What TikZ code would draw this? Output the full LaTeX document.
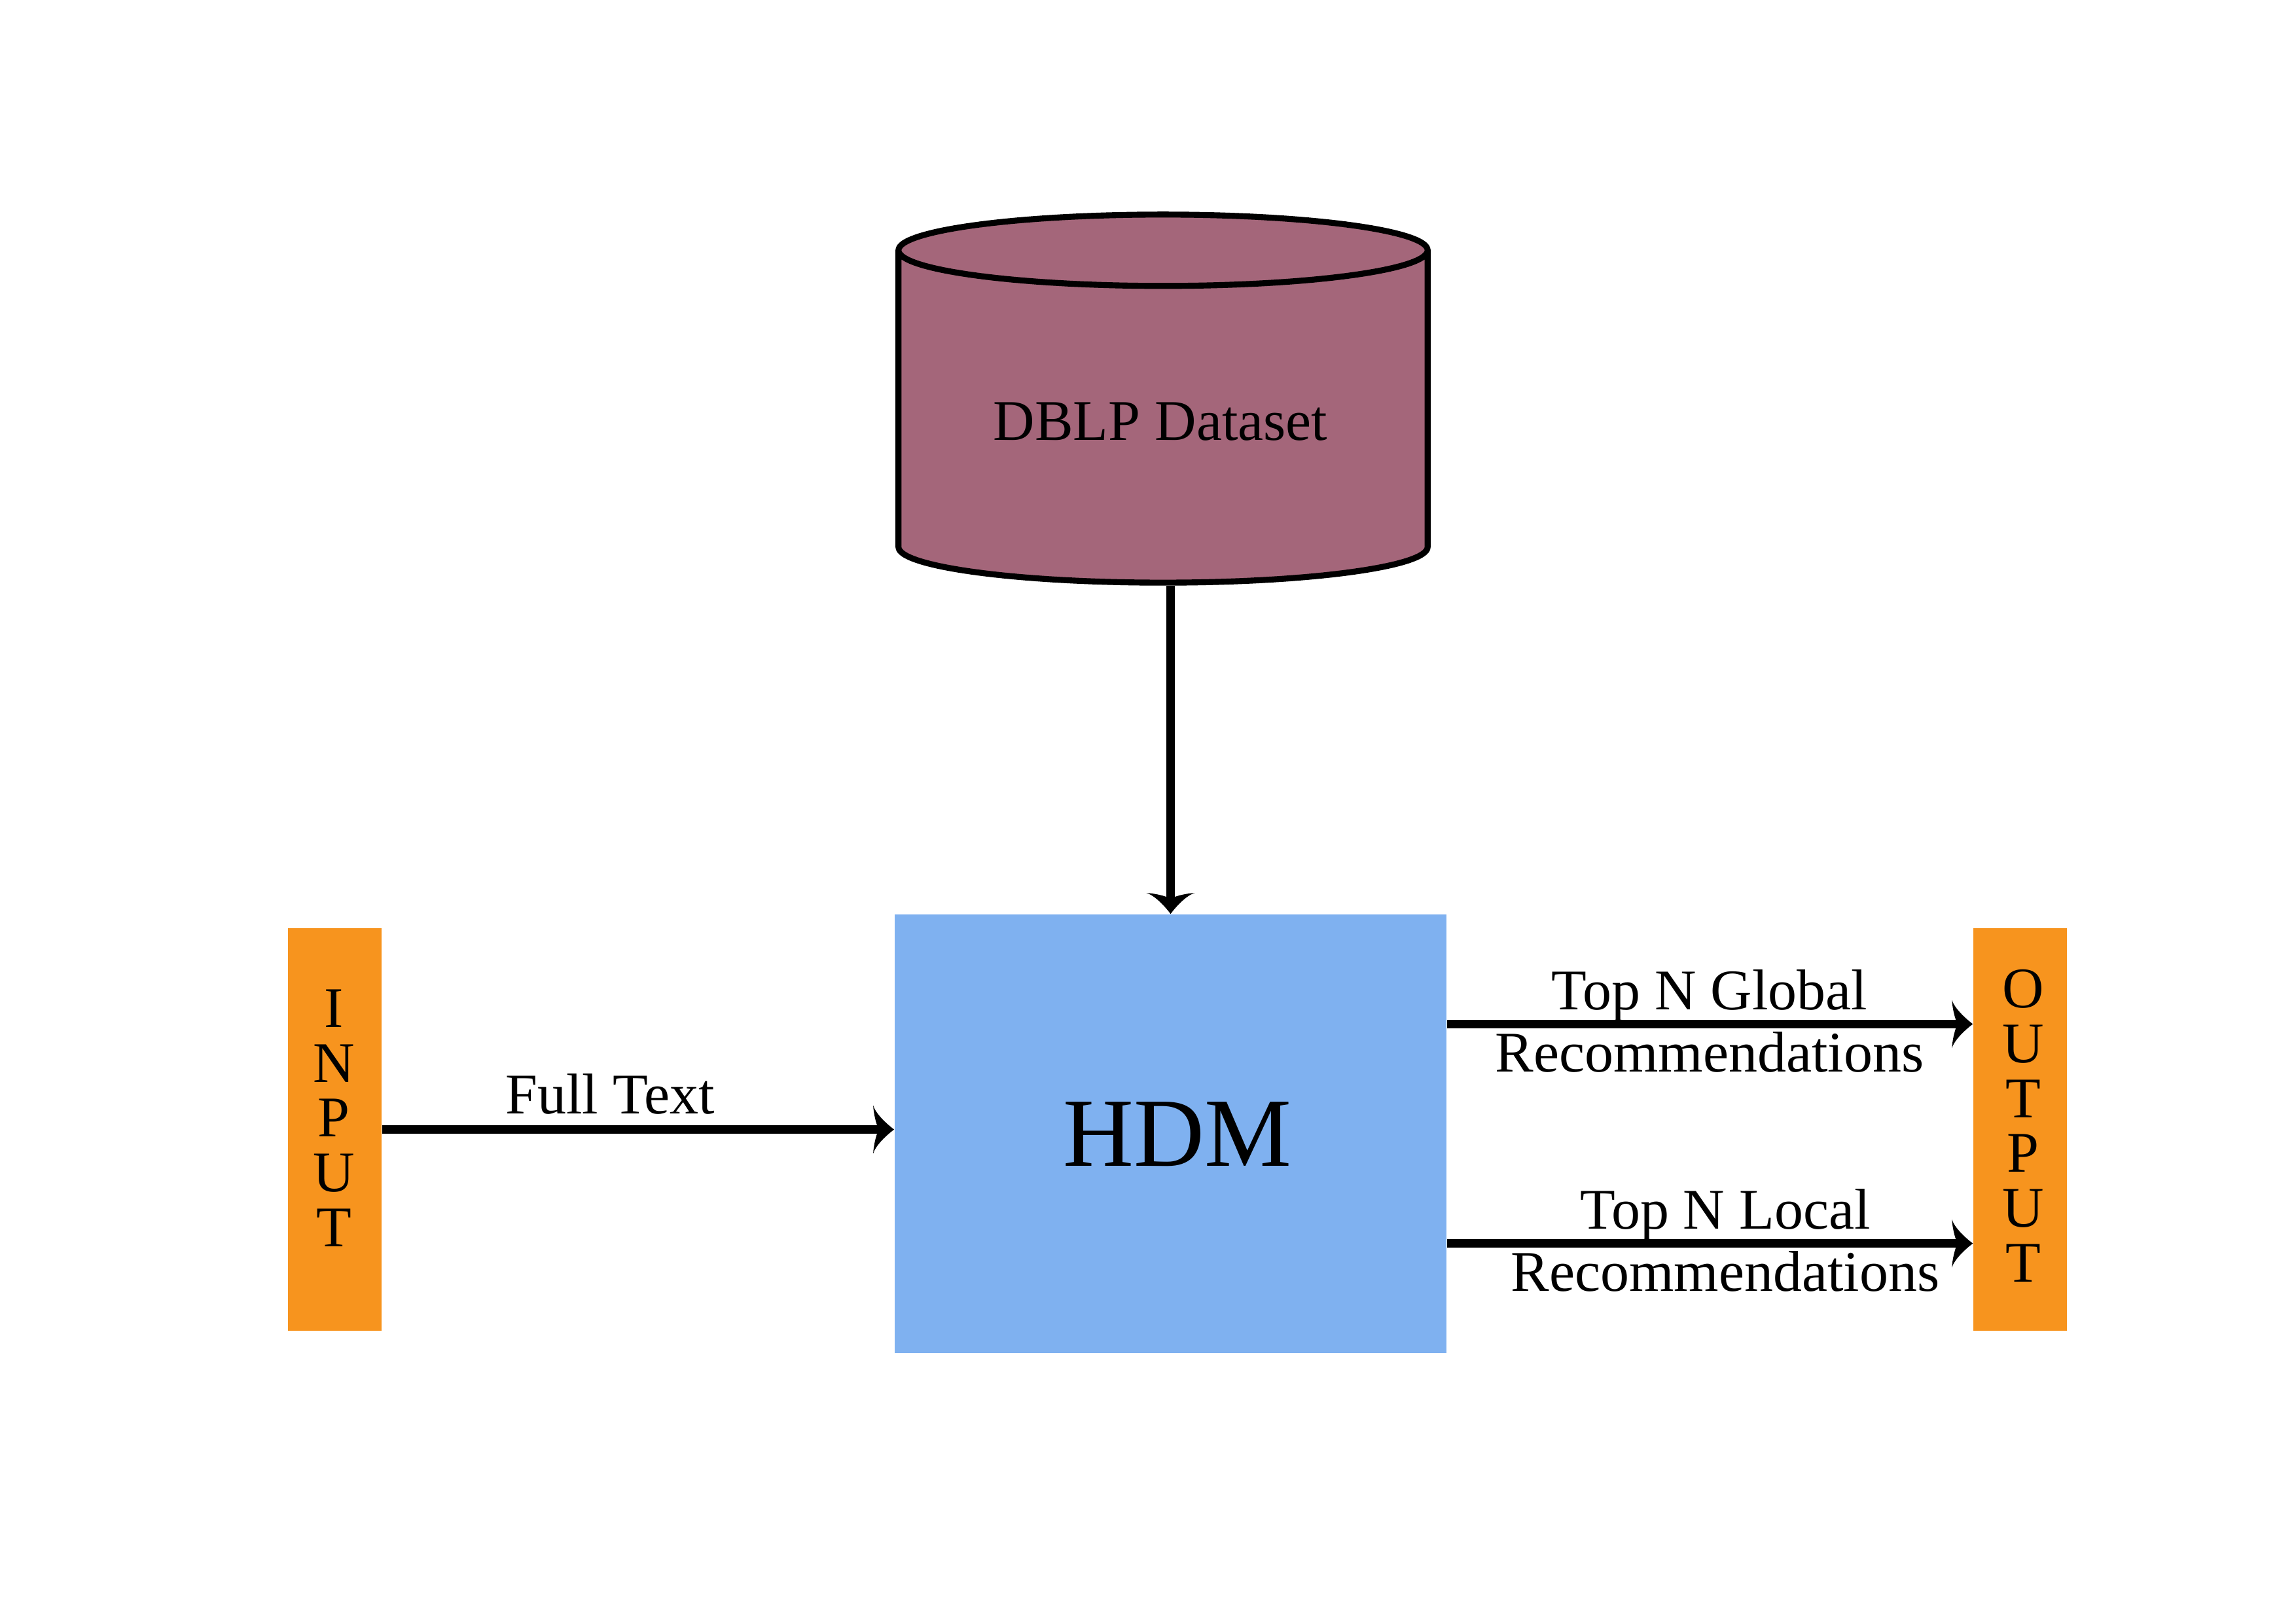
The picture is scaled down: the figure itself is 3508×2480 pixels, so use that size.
\documentclass[tikz,border=0pt]{standalone}
\usepackage{fontspec}
\setmainfont{Liberation Serif}
\usetikzlibrary{arrows.meta, shapes.geometric}
\definecolor{boxorange}{HTML}{F7941E}
\definecolor{boxblue}{HTML}{7FB1F0}
\definecolor{dbmauve}{HTML}{A4667A}

\pgfdeclarearrow{
	name=Crescent,
	setup code={
		\pgfarrowssettipend{0pt}
		\pgfarrowssetlineend{-7pt}
		\pgfarrowssetvisualbackend{-7.4pt}
		\pgfarrowssetbackend{-9.1pt}
		\pgfarrowshullpoint{0pt}{0pt}
		\pgfarrowsupperhullpoint{-9.1pt}{10.5pt}
	},
	drawing code={
		\pgfpathmoveto{\pgfqpoint{0pt}{0pt}}
		\pgfpathcurveto{\pgfqpoint{-3.2pt}{2.4pt}}{\pgfqpoint{-8pt}{6.8pt}}{\pgfqpoint{-9.1pt}{10.5pt}}
		\pgfpathcurveto{\pgfqpoint{-8.9pt}{7pt}}{\pgfqpoint{-8pt}{3.5pt}}{\pgfqpoint{-7.4pt}{1.85pt}}
		\pgfpathlineto{\pgfqpoint{-7.4pt}{-1.85pt}}
		\pgfpathcurveto{\pgfqpoint{-8pt}{-3.5pt}}{\pgfqpoint{-8.9pt}{-7pt}}{\pgfqpoint{-9.1pt}{-10.5pt}}
		\pgfpathcurveto{\pgfqpoint{-8pt}{-6.8pt}}{\pgfqpoint{-3.2pt}{-2.4pt}}{\pgfqpoint{0pt}{0pt}}
		\pgfpathclose
		\pgfusepathqfill
	}
}

\tikzset{
	side/.style={fill=boxorange, minimum width=1.43cm, minimum height=6.15cm},
	stacked/.style={align=center, font=\fontsize{25}{23.8}\selectfont},
	flowlabel/.style={align=center, font=\fontsize{25}{26.9}\selectfont},
	flow/.style={line width=3.7pt, -{Crescent}}
}

\begin{document}
\begin{tikzpicture}[x=0.01cm, y=-0.01cm]
	\useasboundingbox (0,0) rectangle (3508,2480);

	\node[side] (input) at (511.5,1725.5) {};
	\node[side] (output) at (3086.5,1725.5) {};
	\node[fill=boxblue, minimum width=8.43cm, minimum height=6.7cm] (hdm) at (1788.5,1732) {};
	\node[draw, line width=2.6pt, fill=dbmauve, cylinder, shape border rotate=90, aspect=4.65,
		minimum width=8.08cm, minimum height=5.62cm] (db) at (1777,645) {};

	\node[anchor=base, flowlabel] (dbtext) at (1773,672) {DBLP Dataset};
	\node[anchor=base, font=\fontsize{42.5}{44}\selectfont] (hdmtext) at (1799,1781) {HDM};
	\node[stacked] (inputtext) at (510,1708) {I\\N\\P\\U\\T};
	\node[stacked] (outputtext) at (3091,1720) {O\\U\\T\\P\\U\\T};

	\draw[flow] (input) -- (input -| hdm.west);
	\draw[flow] (hdm.north |- db.south) -- (hdm.north);
	\draw[flow] ([yshift=1.675cm]hdm.east) -- ([yshift=1.675cm]hdm.east -| output.west);
	\draw[flow] ([yshift=-1.675cm]hdm.east) -- ([yshift=-1.675cm]hdm.east -| output.west);

	\node[anchor=base, flowlabel] (fulltext) at (932,1701) {Full Text};
	\node[flowlabel] (globallabel) at (2612,1560) {Top N Global\\Recommendations};
	\node[flowlabel] (locallabel) at (2636,1895) {Top N Local\\Recommendations};
\end{tikzpicture}
\end{document}
